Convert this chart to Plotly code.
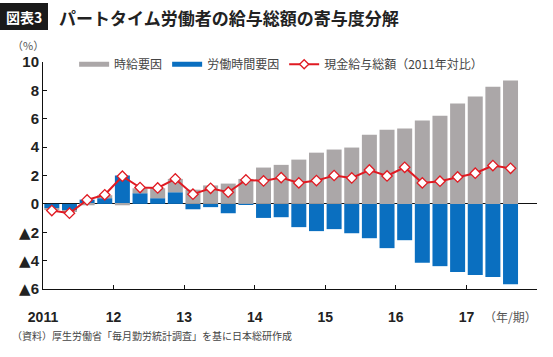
import plotly.graph_objects as go

quarters = [f"{y}Q{q}" for y in range(2011, 2018) for q in range(1, 5)][:27]
hourly_wage = [-0.12, -0.05, -0.10, 0.21, -0.10, 0.35, 0.70, 0.94, 1.00, 1.30, 1.43, 1.76,
               2.56, 2.75, 3.12, 3.61, 3.83, 3.97, 4.88, 5.23, 5.31, 5.87, 6.22, 7.07,
               7.56, 8.26, 8.69]
work_hours = [-0.30, -0.50, 0.30, 0.40, 2.00, 0.75, 0.40, 0.82, -0.38, -0.23, -0.66, -0.08,
              -0.99, -0.94, -1.64, -1.92, -1.78, -2.07, -2.42, -3.12, -2.56, -4.15, -4.39,
              -4.81, -5.02, -5.16, -5.66]
total_pay = [-0.47, -0.66, 0.28, 0.64, 1.95, 1.15, 1.12, 1.76, 0.68, 1.10, 0.82, 1.69,
             1.62, 1.85, 1.48, 1.64, 2.00, 1.83, 2.39, 1.97, 2.58, 1.48, 1.60, 1.90,
             2.16, 2.70, 2.51]
year_labels = ["2011", "12", "13", "14", "15", "16", "17", ""]
y_ticks = [10, 8, 6, 4, 2, 0, -2, -4, -6]
y_labels = ["10", "8", "6", "4", "2", "0", "▲2", "▲4", "▲6"]

GRAY = "#aba7a8"
BLUE = "#0a6fc0"
RED = "#e01a22"
NUM_FONT = "Liberation Sans, Arial, Noto Sans CJK JP"
JP_FONT = "Noto Sans CJK JP, Noto Sans, sans-serif"

x = list(range(len(quarters)))


def fmt_tick(label):
    if label.startswith("▲"):
        return ("<span style='font-family:\"DejaVu Sans\"; font-size:15px'>▲</span>"
                + label[1:])
    return label


fig = go.Figure()
fig.add_trace(go.Bar(x=x, y=work_hours, marker_color=BLUE, marker_line_width=0,
                     width=0.85, showlegend=False, name="労働時間要因"))
fig.add_trace(go.Bar(x=x, y=hourly_wage, marker_color=GRAY, marker_line_width=0,
                     width=0.85, showlegend=False, name="時給要因"))
fig.add_trace(go.Scatter(x=x, y=total_pay, mode="lines+markers", showlegend=False,
                         line=dict(color=RED, width=2),
                         marker=dict(symbol="diamond", size=8, color="white",
                                     line=dict(color=RED, width=1.3)),
                         name="現金給与総額（2011年対比）"))
# legend entries
fig.add_trace(go.Scatter(x=[None], y=[None], mode="lines", name="時給要因",
                         line=dict(color=GRAY, width=5)))
fig.add_trace(go.Scatter(x=[None], y=[None], mode="lines", name="労働時間要因",
                         line=dict(color=BLUE, width=5)))
fig.add_trace(go.Scatter(x=[None], y=[None], mode="lines+markers",
                         name="現金給与総額（2011年対比）",
                         line=dict(color=RED, width=2),
                         marker=dict(symbol="diamond", size=7, color="white",
                                     line=dict(color=RED, width=1.3))))

fig.update_layout(
    width=553, height=357,
    margin=dict(l=43, r=16, t=62, b=68),
    paper_bgcolor="white", plot_bgcolor="white",
    barmode="relative", bargap=0.15,
    showlegend=True,
    legend=dict(orientation="h", x=0.063, y=0.99, xanchor="left", yanchor="middle",
                font=dict(family=JP_FONT, size=12, color="#444"),
                bgcolor="rgba(0,0,0,0)", itemwidth=30, tracegroupgap=0),
    font=dict(family=JP_FONT, color="#222"),
)
fig.update_xaxes(range=[-0.5, 27.5], showgrid=False, zeroline=False,
                 showline=True, linecolor="#111", linewidth=1,
                 tickmode="array", tickvals=[i * 4 - 0.5 for i in range(8)],
                 ticktext=year_labels, ticks="inside", ticklen=4, tickcolor="#111",
                 ticklabelstandoff=15,
                 tickfont=dict(family=NUM_FONT, size=14, color="#222", weight="bold"))
fig.update_yaxes(range=[-6, 10], showgrid=False, zeroline=True, zerolinecolor="#111",
                 zerolinewidth=1, showline=True, linecolor="#111", linewidth=1,
                 tickmode="array", tickvals=y_ticks,
                 ticktext=[fmt_tick(t) for t in y_labels],
                 ticks="inside", ticklen=4, tickcolor="#111",
                 tickfont=dict(family=NUM_FONT, size=15, color="#222", weight="bold"))

# title box
fig.add_shape(type="rect", xref="paper", yref="paper", x0=-43/494, x1=5/494,
              y0=1 + (62-30)/227, y1=1 + (62-3)/227, fillcolor="#1a1a1a", line_width=0)
fig.add_annotation(text="<b>図表3</b>", xref="paper", yref="paper", x=-19/494,
                   y=1 + (62-16.5)/227, showarrow=False, xanchor="center", yanchor="middle",
                   font=dict(family=JP_FONT, size=14, color="white"))
fig.add_annotation(text="<b>パートタイム労働者の給与総額の寄与度分解</b>", xref="paper", yref="paper",
                   x=14/494, y=1 + (62-17)/227, showarrow=False, xanchor="left",
                   yanchor="middle", font=dict(family=JP_FONT, size=17, color="#222"))
fig.add_annotation(text="（%）", xref="paper", yref="paper", x=-15/494,
                   y=1 + (62-45)/227, showarrow=False, xanchor="center", yanchor="middle",
                   font=dict(family=JP_FONT, size=11, color="#555"))
fig.add_annotation(text="（年/期）", xref="paper", yref="paper", x=1 + 2/494,
                   y=-(316-289)/227, showarrow=False, xanchor="right", yanchor="middle",
                   font=dict(family=JP_FONT, size=12, color="#555"))
fig.add_annotation(text="（資料）厚生労働省「毎月勤労統計調査」を基に日本総研作成", xref="paper",
                   yref="paper", x=-33/494, y=-(335-289)/227, showarrow=False,
                   xanchor="left", yanchor="middle",
                   font=dict(family=JP_FONT, size=10, color="#444"))

fig.write_html("out.html", config={"displayModeBar": False},
               post_script="document.body.style.margin='0';")
